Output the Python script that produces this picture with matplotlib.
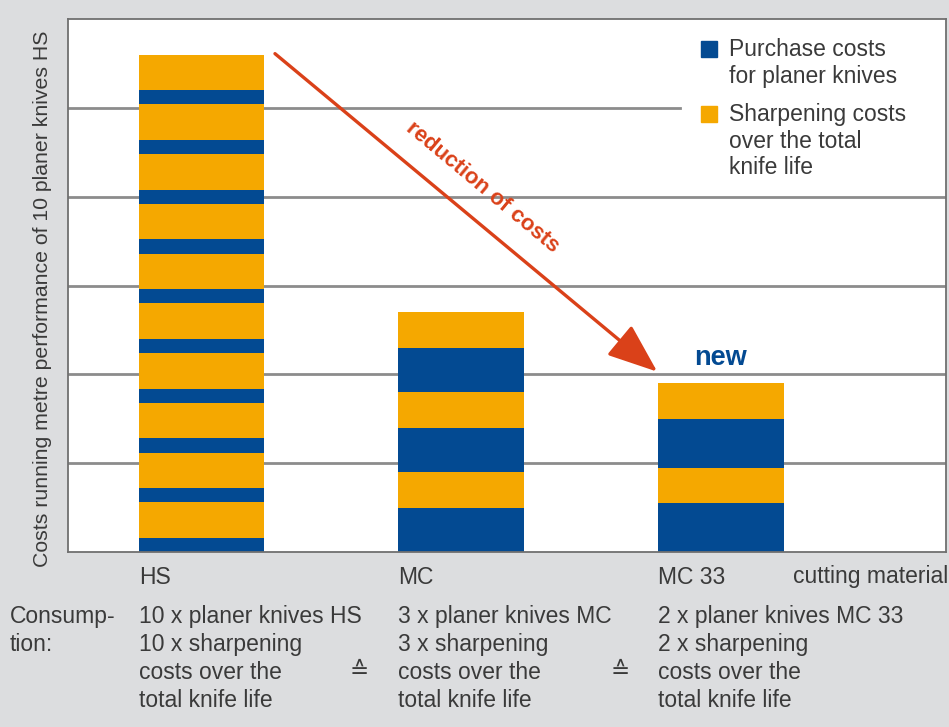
import matplotlib
matplotlib.use("Agg")
import matplotlib.pyplot as plt
from matplotlib.patches import Rectangle

# ---- data ----
categories = ["HS", "MC", "MC 33"]
knife_count = [10, 3, 2]
purchase_per_knife = [0.16, 0.50, 0.55]
sharpening_per_knife = [0.40, 0.40, 0.40]
y_gridlines = [1, 2, 3, 4, 5]

legend_labels = ["Purchase costs\nfor planer knives",
                 "Sharpening costs\nover the total\nknife life"]
y_label = "Costs running metre performance of 10 planer knives HS"
axis_title = "cutting material"
consumption_label = ["Consump-", "tion:"]

BLUE = "#034A92"
ORANGE = "#F5A800"
RED = "#DA4119"
BG = "#DCDDDF"
TXT = "#3A3A3A"

W, H = 949, 727
plt.rcParams["font.family"] = ["Liberation Sans", "DejaVu Sans"]

fig = plt.figure(figsize=(W / 100, H / 100), dpi=100, facecolor=BG)
ax = fig.add_axes([68 / W, 1 - 552 / H, (946 - 68) / W, (552 - 19) / H])
ax.set_facecolor("white")

def fx(px):
    return px / W

def fy(py):
    return 1 - py / H

# grid lines
for g in y_gridlines:
    xmax = 0.697 if g == 5 else 1.0
    ax.axhline(g, xmin=0, xmax=xmax, color="#8C8C8C", lw=2.0, zorder=1)

# stacked bars
xpos = list(range(len(categories)))
width = 0.484
for i, cat in enumerate(categories):
    bottom = 0.0
    for k in range(knife_count[i]):
        ax.bar(xpos[i], purchase_per_knife[i], width, bottom=bottom,
               color=BLUE, linewidth=0, zorder=2)
        bottom += purchase_per_knife[i]
        ax.bar(xpos[i], sharpening_per_knife[i], width, bottom=bottom,
               color=ORANGE, linewidth=0, zorder=2)
        bottom += sharpening_per_knife[i]

ax.set_xlim(-0.514, 2.867)
ax.set_ylim(0, 6)
ax.set_xticks([])
ax.set_yticks([])
for s in ax.spines.values():
    s.set_color("#707070")
    s.set_linewidth(1.3)

# arrow + label
totals = [knife_count[i] * (purchase_per_knife[i] + sharpening_per_knife[i])
          for i in range(len(categories))]
ax.annotate("", xy=(1.755, 2.03), xytext=(0.283, 5.61),
            arrowprops=dict(arrowstyle="-|>,head_length=1.55,head_width=0.6",
                            mutation_scale=20, color=RED, lw=2.4,
                            shrinkA=0, shrinkB=0), zorder=4)
ax.text(1.081, 4.10, "reduction of costs", rotation=-39.8, color=RED,
        fontsize=16, fontweight="bold", ha="center", va="center",
        rotation_mode="anchor", zorder=5)
ax.text(2, totals[2] + 0.28, "new", color=BLUE, fontsize=19.5,
        fontweight="bold", ha="center", va="center", zorder=5)

# legend (manual)
FS = 16.5
for j, (lab, col, sy) in enumerate(zip(legend_labels, [BLUE, ORANGE], [41, 106])):
    fig.patches.append(Rectangle((fx(701), fy(sy + 16)), 16 / W, 16 / H,
                                 transform=fig.transFigure, color=col,
                                 figure=fig))
    for li, line in enumerate(lab.split("\n")):
        fig.text(fx(729), fy(sy + 9 + li * 26.5), line, fontsize=FS,
                 color=TXT, ha="left", va="center")

# y label
fig.text(fx(43), fy(299), y_label, rotation=90, fontsize=15.3, color=TXT,
         ha="center", va="center")

# category labels
bar_left_px = [139, 398, 658]
for i, cat in enumerate(categories):
    fig.text(fx(bar_left_px[i]), fy(577), cat, fontsize=FS, color=TXT,
             ha="left", va="center")
fig.text(fx(793), fy(577), axis_title, fontsize=FS, color=TXT,
         ha="left", va="center")

# consumption rows
for li, line in enumerate(consumption_label):
    fig.text(fx(10), fy(617 + li * 27.5), line, fontsize=FS, color=TXT,
             ha="left", va="center")
for i, cat in enumerate(categories):
    lines = [f"{knife_count[i]} x planer knives {cat}",
             f"{knife_count[i]} x sharpening",
             "costs over the",
             "total knife life"]
    for li, line in enumerate(lines):
        fig.text(fx(bar_left_px[i]), fy(617 + li * 27.7), line, fontsize=FS,
                 color=TXT, ha="left", va="center")

for xp in [359, 620]:
    fig.text(fx(xp), fy(672), "\u2259", fontsize=FS, color=TXT,
             ha="center", va="center")

fig.savefig("out.png", dpi=100, facecolor=BG)
